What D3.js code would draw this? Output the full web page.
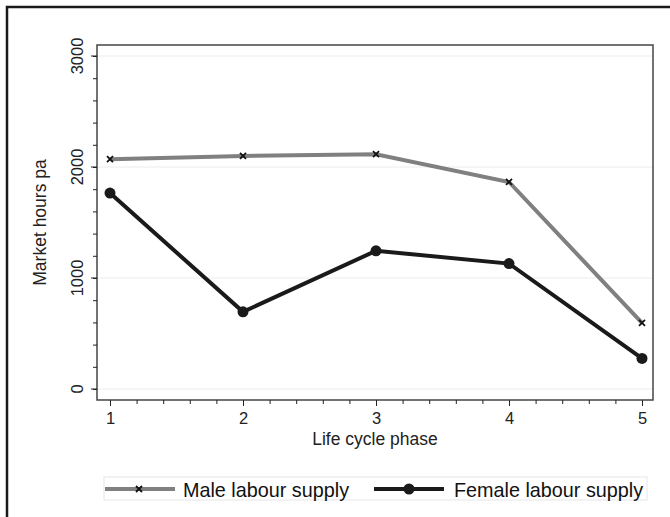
<!DOCTYPE html>
<html>
<head>
<meta charset="utf-8">
<script src="https://cdn.jsdelivr.net/npm/d3@7"></script>
<style>
  body { margin: 0; background: #fff; }
  svg { font-family: "Liberation Sans", Arial, Helvetica, sans-serif; }
</style>
</head>
<body>
<svg width="670" height="517"></svg>
<script>
// life cycle phases and hours per year
var phases = [1, 2, 3, 4, 5];
var maleHours = [2070, 2100, 2115, 1865, 595];
var femaleHours = [1765, 695, 1245, 1130, 275];
var yTicks = [0, 1000, 2000, 3000];

var svg = d3.select('svg');

// outer frame (right and bottom edges run off the page)
svg.append('rect')
    .attr('x', 7).attr('y', 7)
    .attr('width', 700).attr('height', 540)
    .attr('fill', '#fff')
    .attr('stroke', '#1a1a1a')
    .attr('stroke-width', 2.5);

var x = d3.scaleLinear().domain([1, 5]).range([110, 642]);
var y = d3.scaleLinear().domain([0, 3000]).range([389, 56]);

var plot = { left: 97, right: 653, top: 45, bottom: 400 };

// gridlines
svg.append('g').selectAll('line')
    .data(yTicks)
    .enter().append('line')
    .attr('x1', plot.left).attr('x2', plot.right)
    .attr('y1', function (d) { return y(d); })
    .attr('y2', function (d) { return y(d); })
    .attr('stroke', '#ececec')
    .attr('stroke-width', 1);

// plot frame
svg.append('rect')
    .attr('x', plot.left).attr('y', plot.top)
    .attr('width', plot.right - plot.left)
    .attr('height', plot.bottom - plot.top)
    .attr('fill', 'none')
    .attr('stroke', '#444')
    .attr('stroke-width', 1.5);

// y axis
var yAxis = svg.append('g')
    .attr('transform', 'translate(' + plot.left + ',0)')
    .call(d3.axisLeft(y).tickValues(yTicks).tickSize(6).tickFormat(d3.format('d')));
yAxis.select('.domain').remove();
yAxis.selectAll('.tick').attr('transform', null);
yAxis.selectAll('text')
    .attr('x', 0).attr('y', 0).attr('dx', 0).attr('dy', 0)
    .attr('transform', function (d) { return 'translate(-14,' + y(d) + ') rotate(-90)'; })
    .attr('text-anchor', 'middle')
    .style('font-size', '16.5px')
    .attr('fill', '#222');
yAxis.selectAll('.tick line')
    .attr('y1', function (d) { return y(d); })
    .attr('y2', function (d) { return y(d); });
yAxis.selectAll('line').attr('stroke', '#222');

svg.append('g')
    .attr('transform', 'translate(' + plot.left + ',0)')
    .call(d3.axisLeft(y).ticks(15).tickSize(4).tickFormat(''))
    .call(function (g) { g.select('.domain').remove(); })
    .selectAll('line').attr('stroke', '#222');

// x axis
var xAxis = svg.append('g')
    .attr('transform', 'translate(0,' + plot.bottom + ')')
    .call(d3.axisBottom(x).tickValues(phases).tickSize(6).tickFormat(d3.format('d')));
xAxis.select('.domain').remove();
xAxis.selectAll('text').style('font-size', '16.5px').attr('fill', '#222').attr('dy', '0.9em');
xAxis.selectAll('line').attr('stroke', '#222');

svg.append('g')
    .attr('transform', 'translate(0,' + plot.bottom + ')')
    .call(d3.axisBottom(x).tickValues(d3.range(1, 5.01, 0.2)).tickSize(4).tickFormat(''))
    .call(function (g) { g.select('.domain').remove(); })
    .selectAll('line').attr('stroke', '#222');

// axis titles
svg.append('text')
    .attr('x', (plot.left + plot.right) / 2).attr('y', 445)
    .attr('text-anchor', 'middle')
    .style('font-size', '17.5px')
    .attr('fill', '#222')
    .text('Life cycle phase');

svg.append('text')
    .attr('transform', 'translate(46,' + y(1500) + ') rotate(-90)')
    .attr('text-anchor', 'middle')
    .style('font-size', '17.5px')
    .attr('fill', '#222')
    .text('Market hours pa');

var line = d3.line()
    .x(function (d, i) { return x(phases[i]); })
    .y(function (d) { return y(d); });

// male series
svg.append('path')
    .datum(maleHours)
    .attr('d', line)
    .attr('fill', 'none')
    .attr('stroke', '#808080')
    .attr('stroke-width', 4);

function cross(g, cx, cy) {
    g.append('path')
        .attr('d', 'M' + (cx - 3) + ',' + (cy - 3) + 'L' + (cx + 3) + ',' + (cy + 3) +
            'M' + (cx - 3) + ',' + (cy + 3) + 'L' + (cx + 3) + ',' + (cy - 3))
        .attr('stroke', '#111')
        .attr('stroke-width', 1.8);
}

var maleMarks = svg.append('g');
maleHours.forEach(function (d, i) { cross(maleMarks, x(phases[i]), y(d)); });

// female series
svg.append('path')
    .datum(femaleHours)
    .attr('d', line)
    .attr('fill', 'none')
    .attr('stroke', '#1a1a1a')
    .attr('stroke-width', 4);

svg.append('g').selectAll('circle')
    .data(femaleHours)
    .enter().append('circle')
    .attr('cx', function (d, i) { return x(phases[i]); })
    .attr('cy', function (d) { return y(d); })
    .attr('r', 5.5)
    .attr('fill', '#1a1a1a');

// legend
var legend = svg.append('g');
legend.append('rect')
    .attr('x', 104).attr('y', 477)
    .attr('width', 543).attr('height', 23)
    .attr('fill', '#fff')
    .attr('stroke', '#e6e6e6');

legend.append('line')
    .attr('x1', 105).attr('x2', 175).attr('y1', 489).attr('y2', 489)
    .attr('stroke', '#808080').attr('stroke-width', 4);
cross(legend, 139, 489);
legend.append('text')
    .attr('x', 183).attr('y', 496.5)
    .style('font-size', '19.8px').attr('fill', '#111')
    .text('Male labour supply');

legend.append('line')
    .attr('x1', 374).attr('x2', 444).attr('y1', 489).attr('y2', 489)
    .attr('stroke', '#1a1a1a').attr('stroke-width', 4);
legend.append('circle')
    .attr('cx', 409).attr('cy', 489).attr('r', 5.5).attr('fill', '#1a1a1a');
legend.append('text')
    .attr('x', 454).attr('y', 496.5)
    .style('font-size', '19.8px').attr('fill', '#111')
    .text('Female labour supply');
</script>
</body>
</html>
